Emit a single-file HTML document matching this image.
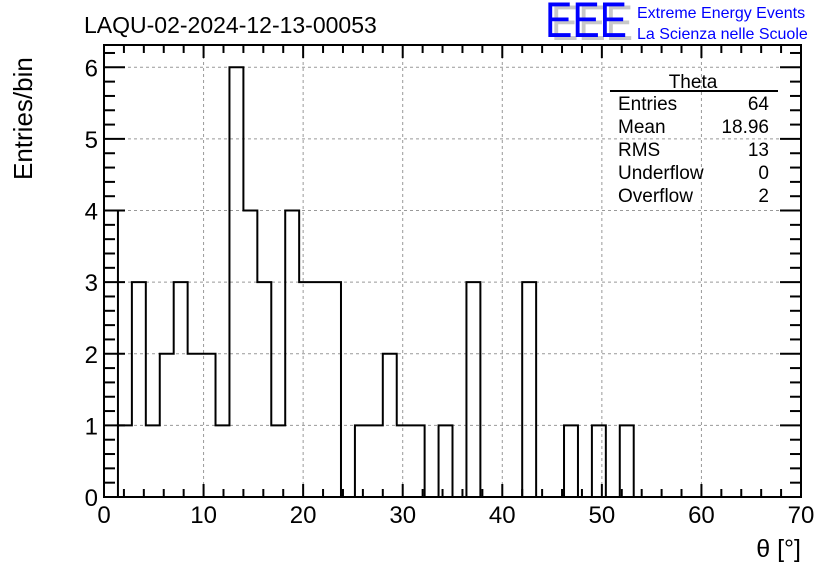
<!DOCTYPE html>
<html><head><meta charset="utf-8"><style>
body{margin:0;background:#fff;}
svg{display:block;font-family:"Liberation Sans",sans-serif;}
</style></head><body>
<svg width="836" height="572" viewBox="0 0 836 572">
<g id="grid"></g>
<g id="hist"></g>
<g id="axes"></g>
<text x="84" y="33" font-size="23">LAQU-02-2024-12-13-00053</text>
<g>
<text x="551" y="40" font-size="50" fill="#c8c8c8" textLength="82" lengthAdjust="spacingAndGlyphs">EEE</text>
<text x="545" y="37" font-size="50" fill="#0000ff" textLength="82" lengthAdjust="spacingAndGlyphs">EEE</text>
<text x="637" y="18" font-size="16" fill="#0000ff">Extreme Energy Events</text>
<text x="637" y="39" font-size="16" fill="#0000ff">La Scienza nelle Scuole</text>
</g>
<g font-size="19">
<text x="693" y="88" text-anchor="middle">Theta</text>
<line x1="610" y1="91" x2="778" y2="91" stroke="#000" stroke-width="2"/>
<text x="618" y="110">Entries</text><text x="769" y="110" text-anchor="end">64</text>
<text x="618" y="133">Mean</text><text x="769" y="133" text-anchor="end">18.96</text>
<text x="618" y="156">RMS</text><text x="769" y="156" text-anchor="end">13</text>
<text x="618" y="179">Underflow</text><text x="769" y="179" text-anchor="end">0</text>
<text x="618" y="202">Overflow</text><text x="769" y="202" text-anchor="end">2</text>
</g>
<text x="801" y="557" font-size="25" text-anchor="end">θ [°]</text>
<text transform="translate(32,180) rotate(-90)" font-size="26">Entries/bin</text>
</svg>
<script>
const binValues=[4,1,3,1,2,3,2,2,1,6,4,3,1,4,3,3,3,0,1,1,2,1,1,0,1,0,3,0,0,0,3,0,0,1,0,1,0,1,0,0,0,0,0,0,0,0,0,0,0,0];
const binWidth=[1.4];
const xTicks=[0,10,20,30,40,50,60,70];
const yTicks=[0,1,2,3,4,5,6];
const X0=104,X1=801,Y0=497,Y1=45;
const xmax=70, ymax=6.31;
function sx(v){return X0+(X1-X0)*v/xmax;}
function sy(v){return Y0-(Y0-67.3)*v/6;}
const NS="http://www.w3.org/2000/svg";
function mk(t,a,p){const e=document.createElementNS(NS,t);for(const k in a)e.setAttribute(k,a[k]);p.appendChild(e);return e;}
const grid=document.getElementById('grid'),hist=document.getElementById('hist'),axes=document.getElementById('axes');
xTicks.forEach(v=>{if(v>0&&v<xmax){const l=mk('line',{x1:sx(v),x2:sx(v),y1:Y0,y2:Y1,stroke:'#999','stroke-dasharray':'3,3','stroke-width':1},grid);

}});
yTicks.forEach(v=>{if(v>0){const l=mk('line',{x1:X0,x2:X1,y1:sy(v),y2:sy(v),stroke:'#999','stroke-dasharray':'3,3','stroke-width':1},grid);

}});
const w=binWidth[0];
let d='M'+sx(w)+','+sy(0)+' L'+sx(w)+','+sy(binValues[0]);
for(let i=1;i<binValues.length;i++){
 d+=' L'+sx(i*w)+','+sy(binValues[i])+' L'+sx((i+1)*w)+','+sy(binValues[i]);
}
const p=mk('path',{d:d,fill:'none',stroke:'#000','stroke-width':2},hist);


const fr=mk('rect',{x:X0,y:Y1,width:X1-X0,height:Y0-Y1,fill:'none',stroke:'#000','stroke-width':2},axes);


for(let v=0;v<=xmax;v+=2){
 const maj=v%10===0,len=maj?13:8;
 mk('line',{x1:sx(v),x2:sx(v),y1:Y0,y2:Y0-len,stroke:'#000','stroke-width':2},axes);
 mk('line',{x1:sx(v),x2:sx(v),y1:Y1,y2:Y1+len,stroke:'#000','stroke-width':2},axes);
}
xTicks.forEach(v=>{const t=mk('text',{x:sx(v),y:523,'font-size':24,'text-anchor':'middle'},axes);t.textContent=v;

});
for(let k=0;k<=31;k++){
 const v=k*0.2;if(v>ymax)break;
 const maj=k%5===0,len=maj?21:11;
 mk('line',{x1:X0,x2:X0+len,y1:sy(v),y2:sy(v),stroke:'#000','stroke-width':2},axes);
 mk('line',{x1:X1,x2:X1-len,y1:sy(v),y2:sy(v),stroke:'#000','stroke-width':2},axes);
}
yTicks.forEach(v=>{const t=mk('text',{x:98,y:sy(v)+9,'font-size':24,'text-anchor':'end'},axes);t.textContent=v;

});
</script>
</body></html>
